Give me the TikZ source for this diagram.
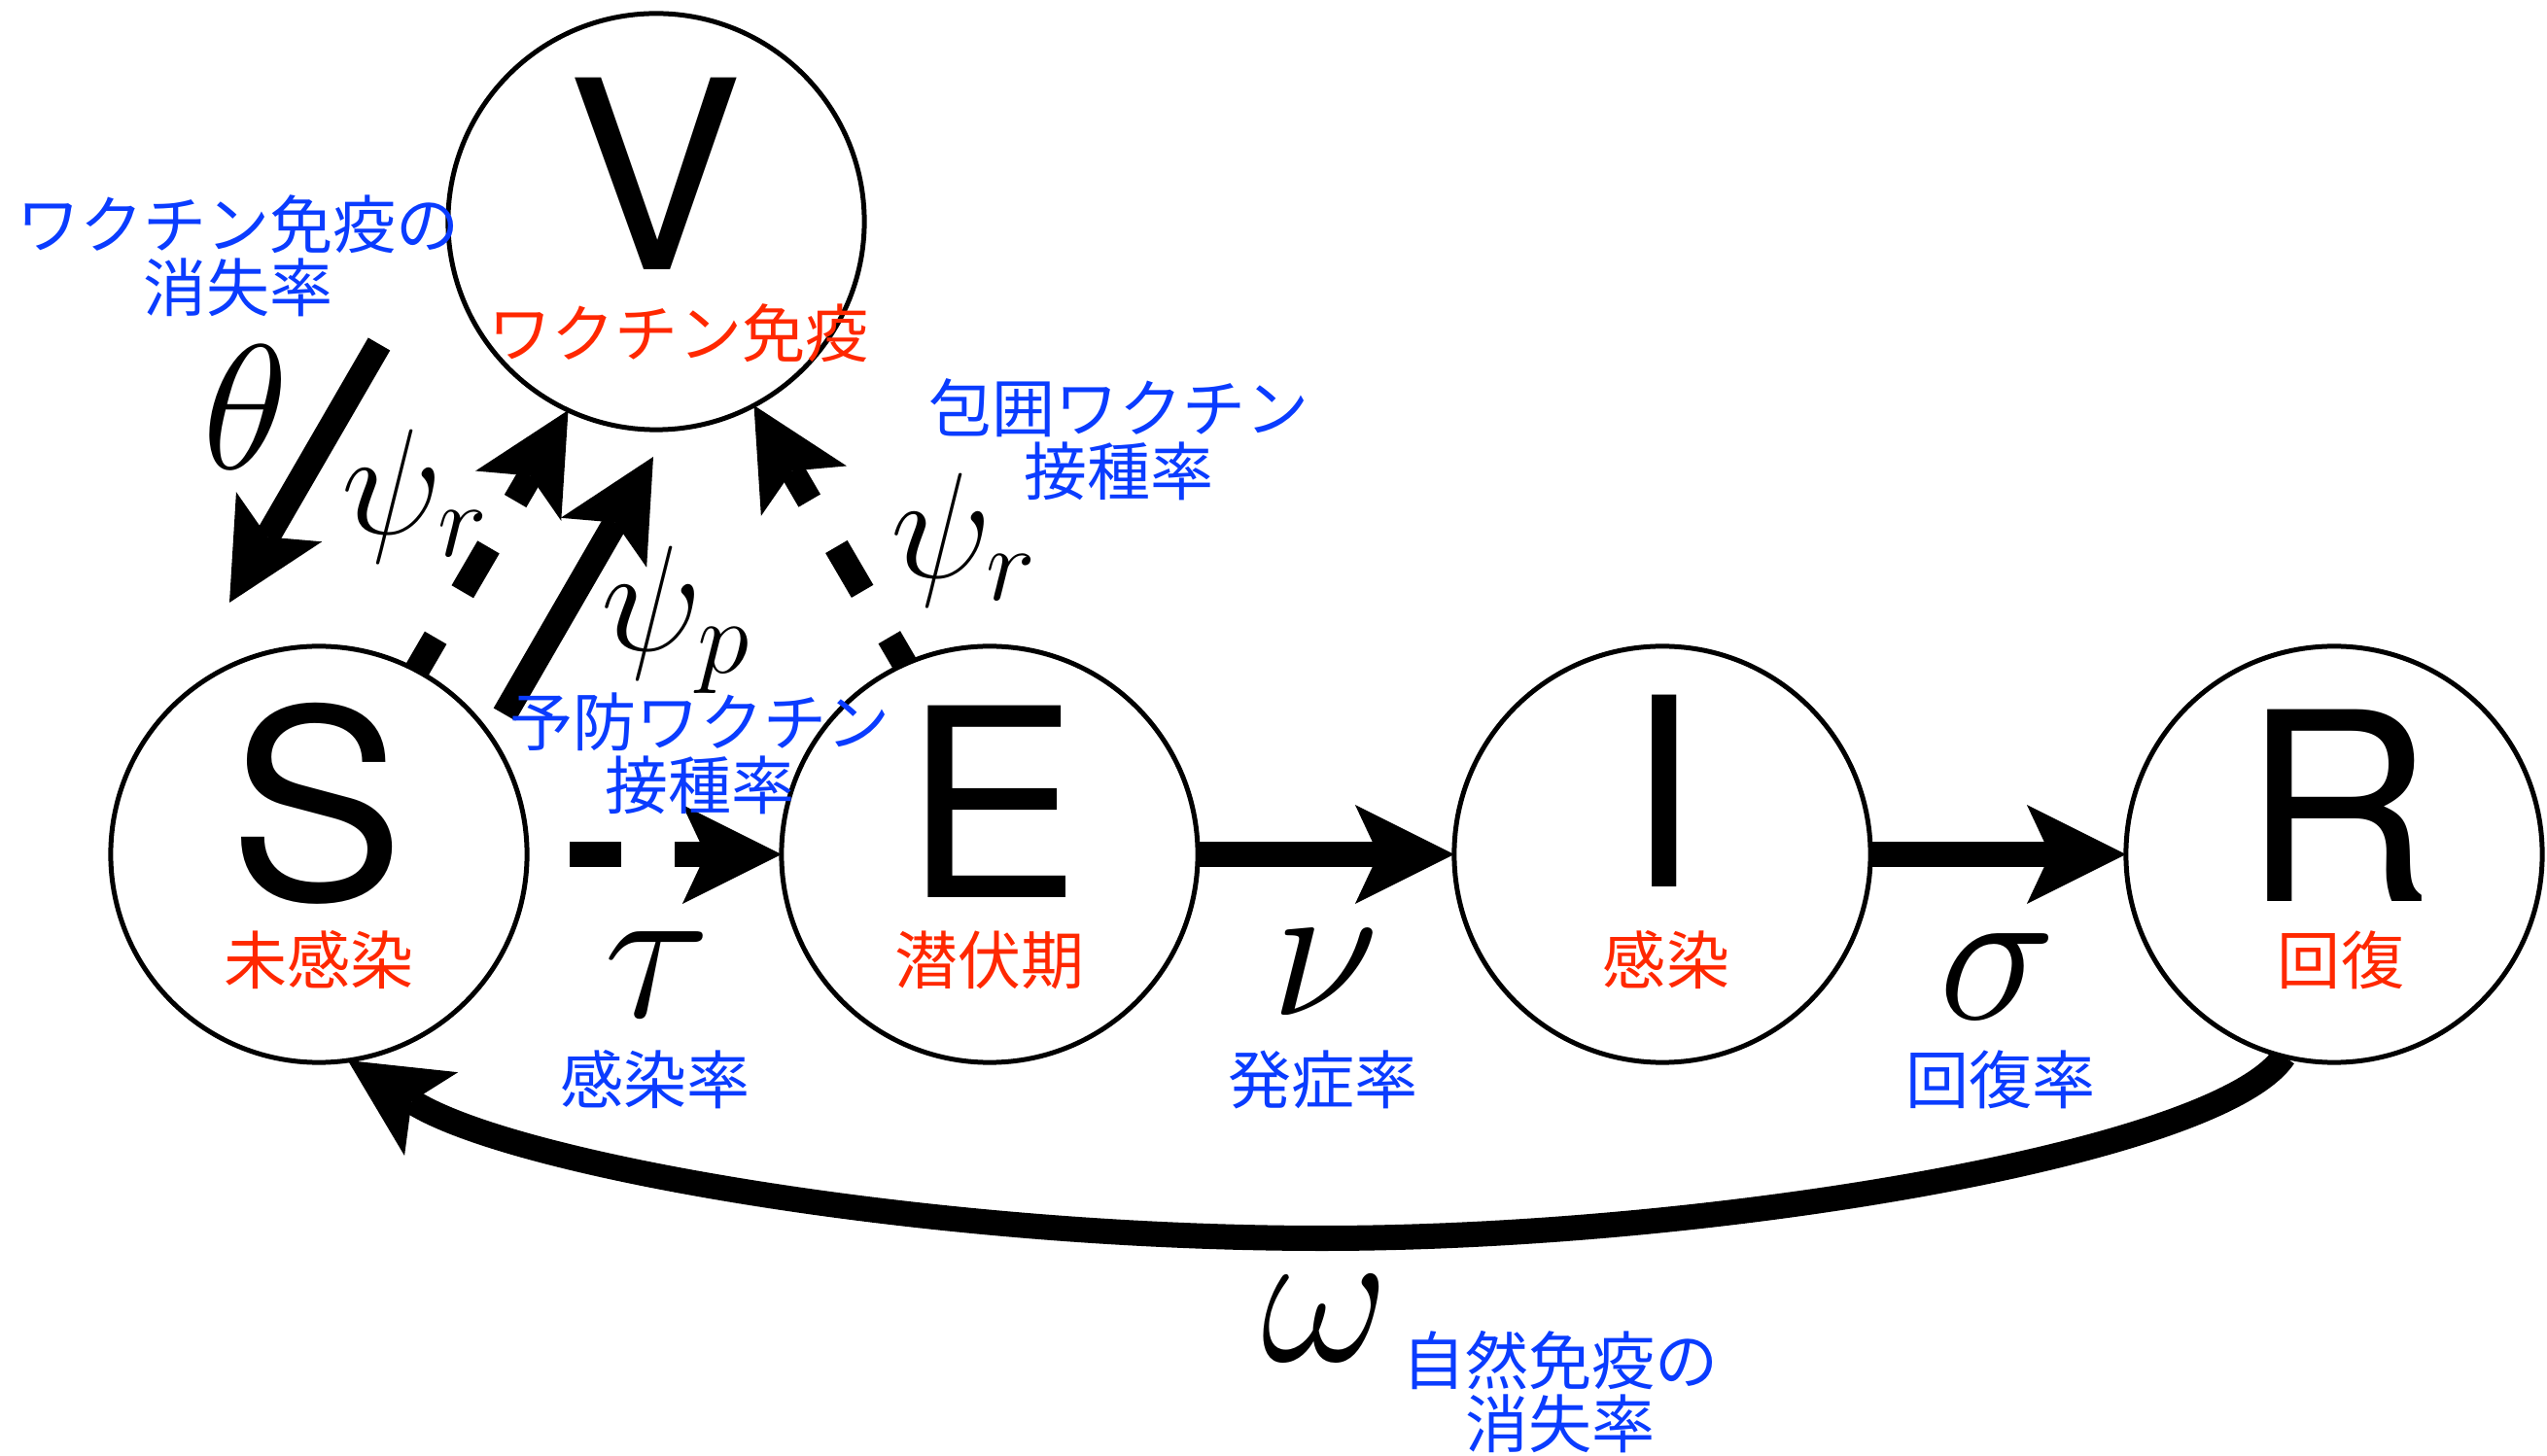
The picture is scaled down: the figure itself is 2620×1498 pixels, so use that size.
\documentclass[tikz,border=0pt]{standalone}
\usepackage{fix-cm}
\usepackage{fontspec}
\newfontfamily\jp{Noto Sans CJK JP}
\newfontfamily\hv{TeX Gyre Heros}
\usetikzlibrary{arrows.meta,backgrounds,calc}
\definecolor{lblblue}{RGB}{10,60,255}
\definecolor{lblred}{RGB}{255,40,0}
\tikzset{
  comp/.style={circle, draw, line width=1.42pt, fill=white, minimum size=4.28cm, inner sep=0pt, outer sep=0pt},
  big/.style={font=\hv\fontsize{77}{77}\selectfont, inner sep=0pt},
  redlbl/.style={text=lblred, font=\jp\fontsize{18.5}{18.5}\selectfont, inner sep=0pt},
  bluelbl/.style={text=lblblue, font=\jp\fontsize{18.5}{18.5}\selectfont, align=center, inner sep=0pt},
  greek/.style={font=\fontsize{58}{58}\selectfont, inner sep=0pt},
  thetalbl/.style={font=\fontsize{52}{52}\selectfont, inner sep=0pt},
  psilbl/.style={font=\fontsize{44}{44}\selectfont, inner sep=0pt},
  flow/.style={line width=7.4pt, -{Stealth[length=29pt, width=29pt, inset=6.8pt, line width=0pt]}},
  dflow/.style={flow, dash pattern=on 15.1pt off 15.6pt},
}
\begin{document}
\begin{tikzpicture}[x=0.01cm, y=-0.01cm]
\useasboundingbox (0,0) rectangle (2620,1498);
\node[comp] (V) at (675,228) {};
\node[comp] (S) at (328,879) {};
\node[comp] (E) at (1018,879) {};
\node[comp] (I) at (1710,879) {};
\node[comp] (R) at (2401,879) {};

\coordinate (th1) at (390,354);
\coordinate (th2) at (236,620);
\coordinate (pp1) at (519,735);
\coordinate (pp2) at (672,470);
\coordinate (wm) at (1360,1274);

\begin{scope}[on background layer]
\draw[flow] (th1) -- (th2);
\draw[flow] (pp1) -- (pp2);
\draw[dflow, dash phase=4pt] (S.62) -- (V.245);
\draw[dflow, dash phase=6pt] (E.114) -- (V.298);
\draw[dflow, shorten <=12.5pt] (S) -- (E);
\draw[flow] (E) -- (I);
\draw[flow] (I) -- (R);
\draw[flow] (R.256) .. controls (2283,1186) and (1760,1274) .. (wm)
   .. controls (960,1274) and (526,1199) .. (S.278);
\end{scope}

\node[big] (Vl) at (674,179) {V};
\node[big] (Sl) at (325.5,826.5) {S};
\node[big] (El) at (1021,825) {E};
\node[big] (Il) at (1710,814) {I};
\node[big] (Rl) at (2405,829) {R};

\node[redlbl] (Vt) at (698,343) {ワクチン免疫};
\node[redlbl] (St) at (328,988) {未感染};
\node[redlbl] (Et) at (1018,988) {潜伏期};
\node[redlbl] (It) at (1714,988) {感染};
\node[redlbl] (Rt) at (2408,988) {回復};

\node[bluelbl] (thd) at (245,263.5) {ワクチン免疫の\\消失率};
\node[bluelbl] (ppd) at (720,775) {予防ワクチン\\接種率};
\node[bluelbl] (prd) at (1151,452) {包囲ワクチン\\接種率};
\node[bluelbl] (tad) at (674,1111) {感染率};
\node[bluelbl] (nud) at (1361,1111) {発症率};
\node[bluelbl] (sid) at (2058,1111) {回復率};
\node[bluelbl] (omd) at (1605,1432) {自然免疫の\\消失率};

\node[thetalbl] (th) at (252.5,419) {$\theta$};
\node[psilbl] (psr1) at (427,510.5) {$\psi_r$};
\node[psilbl] (psr2) at (991.5,555.5) {$\psi_r$};
\node[psilbl] (psp) at (695.5,637.5) {$\psi_p$};
\node[greek] (ta) at (676,1003) {$\tau$};
\node[greek] (nu) at (1363,1001) {$\nu$};
\node[greek] (si) at (2055,1005) {$\sigma$};
\node[greek] (om) at (1363,1357) {$\omega$};
\end{tikzpicture}
\end{document}
